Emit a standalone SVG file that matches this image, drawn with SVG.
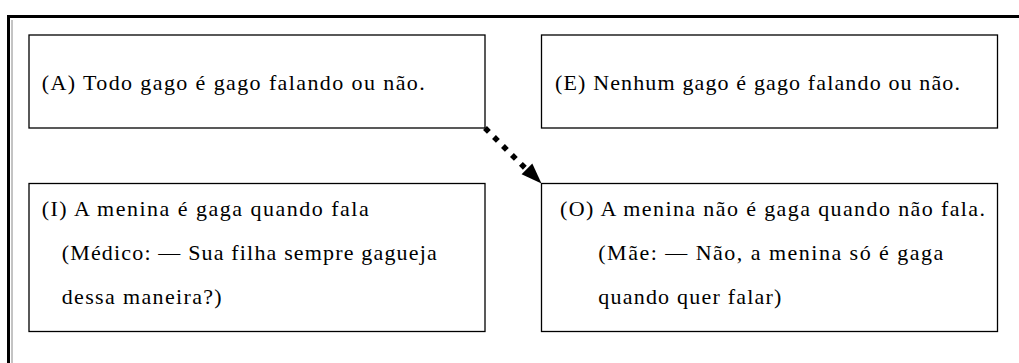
<svg xmlns="http://www.w3.org/2000/svg" width="1019" height="363" viewBox="0 0 1019 363">
  <style>
    .box { fill: #ffffff; stroke: #000000; stroke-width: 1.3; }
    .t { font-family: "Liberation Serif", "Times New Roman", serif; font-size: 22px; fill: #000000; }
  </style>
  <rect width="1019" height="363" fill="#ffffff"/>
  <g id="frame">
    <path d="M8.5,363 L8.5,16.5 L1019,16.5" fill="none" stroke="#000000" stroke-width="3"/>
    <path d="M12,363 L12,20" fill="none" stroke="#888888" stroke-width="1"/>
  </g>
  <g id="nodeA">
    <rect class="box" x="29" y="35" width="456" height="93"/>
    <text class="t" x="41.7" y="90" textLength="383" lengthAdjust="spacing">(A) Todo gago é gago falando ou não.</text>
  </g>
  <g id="nodeE">
    <rect class="box" x="541.5" y="35" width="456" height="93"/>
    <text class="t" x="555" y="90" textLength="405" lengthAdjust="spacing">(E) Nenhum gago é gago falando ou não.</text>
  </g>
  <g id="nodeI">
    <rect class="box" x="29" y="183.5" width="456" height="148"/>
    <text class="t" x="41.7" y="216" textLength="327" lengthAdjust="spacing">(I) A menina é gaga quando fala</text>
    <text class="t" x="61.7" y="260" textLength="375" lengthAdjust="spacing">(Médico: — Sua filha sempre gagueja</text>
    <text class="t" x="61.7" y="304" textLength="160" lengthAdjust="spacing">dessa maneira?)</text>
  </g>
  <g id="nodeO">
    <rect class="box" x="541.5" y="183.5" width="456" height="148"/>
    <text class="t" x="560" y="216" textLength="425" lengthAdjust="spacing">(O) A menina não é gaga quando não fala.</text>
    <text class="t" x="598.3" y="260" textLength="345" lengthAdjust="spacing">(Mãe: — Não, a menina só é gaga</text>
    <text class="t" x="598.3" y="304" textLength="183" lengthAdjust="spacing">quando quer falar)</text>
  </g>
  <g id="connectors">
    <line x1="485" y1="128" x2="527" y2="170" stroke="#000000" stroke-width="5.5" stroke-dasharray="5.5 7.2"/>
    <path d="M541.5,183.5 L532.3,163.6 L521.6,174.3 Z" fill="#000000"/>
  </g>
</svg>
